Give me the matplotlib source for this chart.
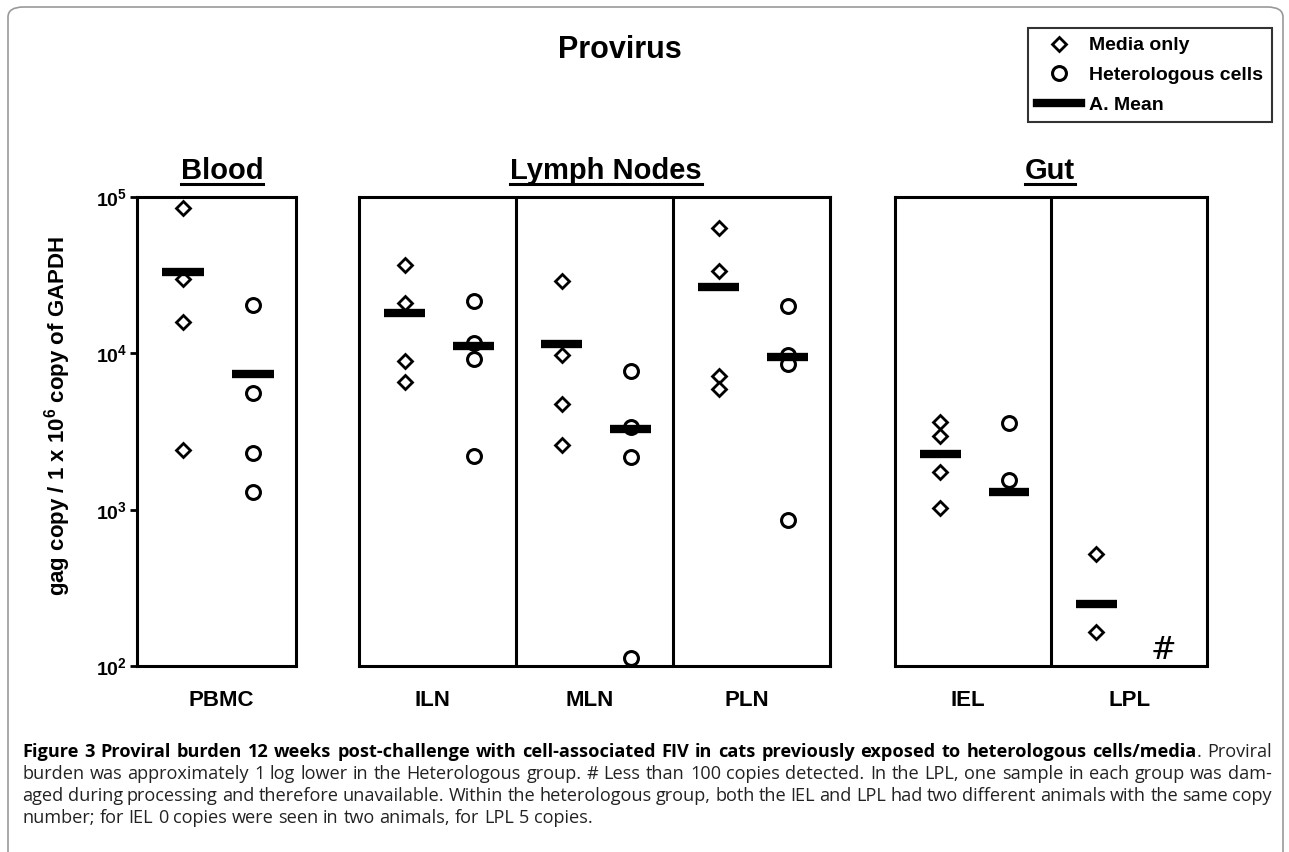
import matplotlib
matplotlib.use('Agg')
import matplotlib.pyplot as plt
from matplotlib.lines import Line2D
from matplotlib.patches import FancyBboxPatch
from matplotlib.ticker import NullLocator, FixedLocator

# ---- data ----
tissues = ['PBMC', 'ILN', 'MLN', 'PLN', 'IEL', 'LPL']
media_vals = [
    [85000, 30000, 15900, 2400],
    [36700, 21000, 8960, 6570],
    [29000, 9780, 4750, 2600],
    [63000, 33600, 7180, 5930],
    [3650, 2970, 1750, 1030],
    [520, 166],
]
media_mean = [33000, 18200, 11500, 26600, 2280, 250]
hetero_vals = [
    [20400, 5600, 2300, 1300],
    [21600, 11700, 9230, 2210],
    [7730, 3390, 2180, 113],
    [20100, 9800, 8570, 863],
    [3600, 1556],
    [],
]
hetero_mean = [7400, 11200, 3300, 9500, 1290, None]
group_names = ['Blood', 'Lymph Nodes', 'Gut']
group_members = [[0], [1, 2, 3], [4, 5]]
ytick_vals = [1e2, 1e3, 1e4, 1e5]

W, H = 1289, 852
plt.rcParams['font.family'] = ['Liberation Sans', 'DejaVu Sans']
plt.rcParams['mathtext.fontset'] = 'custom'
plt.rcParams['mathtext.rm'] = 'Liberation Sans:bold'
plt.rcParams['mathtext.bf'] = 'Liberation Sans:bold'
plt.rcParams['mathtext.it'] = 'Liberation Sans:bold'

fig = plt.figure(figsize=(W / 100, H / 100), dpi=100)


def fx(px):
    return px / W


def fy(py):
    return 1 - py / H


# panel frames in pixels: (left, right)
frames = [(137, 296), (359, 830), (895, 1207)]
top, bottom = 197, 666
lw_frame = 2.2

axes = []
for (l, r), members in zip(frames, group_members):
    ax = fig.add_axes([fx(l), fy(bottom), fx(r - l), (bottom - top) / H])
    ax.set_yscale('log')
    ax.set_ylim(1e2, 1e5)
    ax.set_xlim(0, len(members))
    for s in ax.spines.values():
        s.set_linewidth(lw_frame)
    ax.set_xticks([])
    ax.yaxis.set_minor_locator(NullLocator())
    ax.set_yticks([])
    for k in range(1, len(members)):
        ax.axvline(k, color='k', lw=lw_frame)
    for k, idx in enumerate(members):
        xm, xh = k + 0.29, k + 0.73
        mv = media_vals[idx]
        ax.plot([xm] * len(mv), mv, ls='none', marker='D', ms=7.5, mfc='white',
                mec='k', mew=2.0, zorder=2, clip_on=False)
        hv = hetero_vals[idx]
        if hv:
            ax.plot([xh] * len(hv), hv, ls='none', marker='o', ms=10, mfc='white',
                    mec='k', mew=2.2, zorder=2, clip_on=False)
        ax.hlines(media_mean[idx], xm - 0.13, xm + 0.13, color='k', lw=6, zorder=3)
        if hetero_mean[idx] is not None:
            ax.hlines(hetero_mean[idx], xh - 0.13, xh + 0.13, color='k', lw=6, zorder=3)
    axes.append(ax)

# y axis on the blood panel only
ax0 = axes[0]
ax0.yaxis.set_major_locator(FixedLocator(ytick_vals))
ax0.set_yticklabels([r'$\mathbf{10^{%d}}$' % e for e in [2, 3, 4, 5]], fontsize=14)
ax0.tick_params(axis='y', direction='out', length=5, width=2, pad=2)
ax0.yaxis.set_minor_locator(NullLocator())

# "#" for LPL heterologous (< 100 copies)
axes[2].text(1.72, 126, '#', fontsize=22, ha='center', va='center', family='DejaVu Serif')

fig.text(fx(58), fy(416), 'gag copy / 1 x 10$^{\\mathbf{6}}$ copy of GAPDH', rotation=90,
         fontsize=16, fontweight='bold', ha='center', va='center')

fig.text(fx(620), fy(50), 'Provirus', fontsize=22, fontweight='bold', ha='center', va='center')

renderer = fig.canvas.get_renderer()
inv = fig.transFigure.inverted()

# group headings, underlined
for name, cx in zip(group_names, [222, 606, 1050]):
    t = fig.text(fx(cx), fy(179), name, fontsize=21, fontweight='bold', ha='center', va='baseline')
    bb = t.get_window_extent(renderer)
    (x0, _), (x1, _) = inv.transform([(bb.x0, 0), (bb.x1, 0)])
    fig.add_artist(Line2D([x0, x1], [fy(184), fy(184)], color='k', lw=2.2,
                          transform=fig.transFigure))

for name, cx in zip(tissues, [221, 432, 590, 747, 968, 1130]):
    fig.text(fx(cx), fy(700), name, fontsize=16, fontweight='bold', ha='center', va='center')

# legend
handles = [
    Line2D([], [], ls='none', marker='D', ms=7, mfc='white', mec='k', mew=2),
    Line2D([], [], ls='none', marker='o', ms=10, mfc='white', mec='k', mew=2.2),
    Line2D([], [], color='k', lw=6),
]
leg = fig.legend(handles, ['Media only', 'Heterologous cells', 'A. Mean'],
                 loc='upper right', bbox_to_anchor=(fx(1272), fy(28)),
                 prop={'weight': 'bold', 'size': 14}, frameon=True, fancybox=False,
                 edgecolor='k', borderaxespad=0, handlelength=2.3, handletextpad=0.4,
                 labelspacing=0.62, borderpad=0.45)
leg.get_frame().set_linewidth(1.5)

# outer rounded border
border = FancyBboxPatch((fx(8), fy(900)), fx(1275), (900 - 7) / H,
                        boxstyle='round,pad=0,rounding_size=0.012',
                        transform=fig.transFigure, fill=False, ec='#999999', lw=1.2)
fig.add_artist(border)

# caption, justified
cap_font = 'Open Sans'


def text_w(s, size, bold):
    t = fig.text(0, 0, s, fontsize=size, fontweight='bold' if bold else 'normal', family=cap_font)
    w = t.get_window_extent(renderer).width
    t.remove()
    return w


bold_part = ('Figure 3 Proviral burden 12 weeks post-challenge with cell-associated FIV '
             'in cats previously exposed to heterologous cells/media')
line1 = [[(w, True)] for w in bold_part.split()]
line1[-1].append(('.', False))
line1.append([('Proviral', False)])
cap_lines = [
    line1,
    [[(w, False)] for w in ('burden was approximately 1 log lower in the Heterologous group. # Less '
                            'than 100 copies detected. In the LPL, one sample in each group was dam-').split()],
    [[(w, False)] for w in ('aged during processing and therefore unavailable. Within the heterologous '
                            'group, both the IEL and LPL had two different animals with the same copy').split()],
    [[(w, False)] for w in 'number; for IEL 0 copies were seen in two animals, for LPL 5 copies.'.split()],
]

x_left, x_right = 22, 1272
size = 11.0
sp = text_w('a a', size, False) - text_w('aa', size, False)
nat = sum(sum(text_w(s, size, b) for s, b in wd) for wd in cap_lines[1]) + sp * (len(cap_lines[1]) - 1)
size = size * (x_right - x_left - 12) / nat
sp = text_w('a a', size, False) - text_w('aa', size, False)

baselines = [757, 779, 801, 823]
for li, (words, yb) in enumerate(zip(cap_lines, baselines)):
    widths = [[text_w(s, size, b) for s, b in wd] for wd in words]
    total = sum(sum(w) for w in widths)
    if li < 3:
        gap = (x_right - x_left - total) / (len(words) - 1)
    else:
        gap = sp
    x = x_left
    for wd, ws in zip(words, widths):
        for (s, b), w in zip(wd, ws):
            fig.text(fx(x), fy(yb), s, fontsize=size, fontweight='bold' if b else 'normal',
                     family=cap_font, ha='left', va='baseline', color='#222222' if not b else 'k')
            x += w
        x += gap

fig.savefig('out.png', dpi=100)
